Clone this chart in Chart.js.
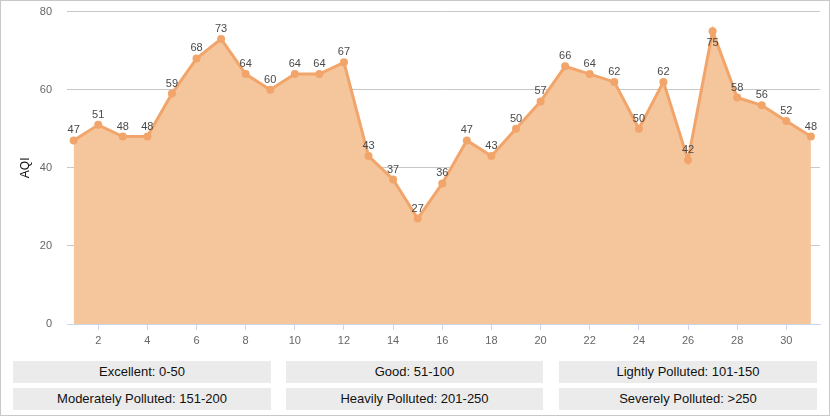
<!DOCTYPE html>
<html lang="en">
<head>
<meta charset="UTF-8">
<title>AQI</title>
<script src="https://cdn.jsdelivr.net/npm/chart.js"></script>
<style>
    html, body { margin: 0; padding: 0; background: #fff; }
    body { width: 830px; height: 416px; overflow: hidden; font-family: "Liberation Sans", Arial, sans-serif; }
    #frame { position: relative; width: 828px; height: 414px; border: 1px solid #c8c8c8; }
    #chartBox { position: absolute; left: -1px; top: -11px; width: 830px; height: 363px; }
    .cell { position: absolute; height: 22px; line-height: 22px; background: #ebebeb; text-align: center; font-size: 13px; color: #111; }
</style>
</head>
<body>
<div id="frame">
    <div id="chartBox"><canvas id="aqiChart"></canvas></div>
    <div id="legend"></div>
</div>

<script>
    const days = [1, 2, 3, 4, 5, 6, 7, 8, 9, 10, 11, 12, 13, 14, 15, 16, 17, 18, 19, 20, 21, 22, 23, 24, 25, 26, 27, 28, 29, 30, 31];
    const aqiValues = [47, 51, 48, 48, 59, 68, 73, 64, 60, 64, 64, 67, 43, 37, 27, 36, 47, 43, 50, 57, 66, 64, 62, 50, 62, 42, 75, 58, 56, 52, 48];
    const xTicks = [2, 4, 6, 8, 10, 12, 14, 16, 18, 20, 22, 24, 26, 28, 30];
    const yTicks = [0, 20, 40, 60, 80];
    const levels = [
        'Excellent: 0-50', 'Good: 51-100', 'Lightly Polluted: 101-150',
        'Moderately Polluted: 151-200', 'Heavily Polluted: 201-250', 'Severely Polluted: >250'
    ];

    // legend cells under the chart
    const cellLeft = [12, 285, 558];
    const cellWidth = [258, 257, 258];
    const cellTop = [360, 387];
    const legend = document.getElementById('legend');
    levels.forEach(function (txt, i) {
        let d = document.createElement('div');
        d.className = 'cell';
        d.style.left = cellLeft[i % 3] + 'px';
        d.style.width = cellWidth[i % 3] + 'px';
        d.style.top = cellTop[Math.floor(i / 3)] + 'px';
        d.textContent = txt;
        legend.appendChild(d);
    });

    // value labels, pushed under the point when too close to the top
    const pointLabels = {
        id: 'pointLabels',
        afterDatasetsDraw(chart) {
            const ctx = chart.ctx;
            const meta = chart.getDatasetMeta(0);
            ctx.save();
            ctx.font = '11px "Liberation Sans", Arial, sans-serif';
            ctx.fillStyle = '#4a4a4a';
            ctx.textAlign = 'center';
            ctx.textBaseline = 'middle';
            meta.data.forEach(function (pt, i) {
                let y = pt.y - 10;
                if (y - 6 < chart.chartArea.top + 6) y = pt.y + 12;
                ctx.fillText(String(aqiValues[i]), pt.x, y);
            });
            ctx.restore();
        }
    };

    new Chart(document.getElementById('aqiChart'), {
        type: 'line',
        data: {
            datasets: [{
                data: days.map((d, i) => ({ x: d, y: aqiValues[i] })),
                borderColor: '#f2a56b',
                backgroundColor: '#f5c59b',
                fill: 'origin',
                borderWidth: 3,
                pointRadius: 4,
                pointBackgroundColor: '#f2a56b',
                pointBorderWidth: 0,
                tension: 0
            }]
        },
        options: {
            responsive: true,
            maintainAspectRatio: false,
            animation: false,
            layout: { padding: { top: 1, right: 10, left: 0, bottom: 0 } },
            plugins: { legend: { display: false }, tooltip: { enabled: false } },
            scales: {
                x: {
                    type: 'linear',
                    min: 0.73,
                    max: 31.37,
                    afterBuildTicks(scale) { scale.ticks = xTicks.map(v => ({ value: v })); },
                    afterFit(scale) { scale.height = 29; },
                    grid: { drawOnChartArea: false, drawTicks: true, tickLength: 6, color: '#ccd6eb' },
                    border: { color: '#ccd6eb' },
                    ticks: { color: '#666', font: { size: 11, family: '"Liberation Sans", Arial, sans-serif' }, padding: 4, maxRotation: 0 }
                },
                y: {
                    min: 0,
                    max: 80,
                    afterBuildTicks(scale) { scale.ticks = yTicks.map(v => ({ value: v })); },
                    afterFit(scale) { scale.width = 67; },
                    grid: { color: '#c8c8c8', drawTicks: false },
                    border: { display: false },
                    ticks: { color: '#666', font: { size: 11, family: '"Liberation Sans", Arial, sans-serif' }, padding: 15 },
                    title: { display: true, text: 'AQI', color: '#111', font: { size: 12, family: '"Liberation Sans", Arial, sans-serif' }, padding: { top: 18, bottom: 0 } }
                }
            }
        },
        plugins: [pointLabels]
    });
</script>
</body>
</html>
